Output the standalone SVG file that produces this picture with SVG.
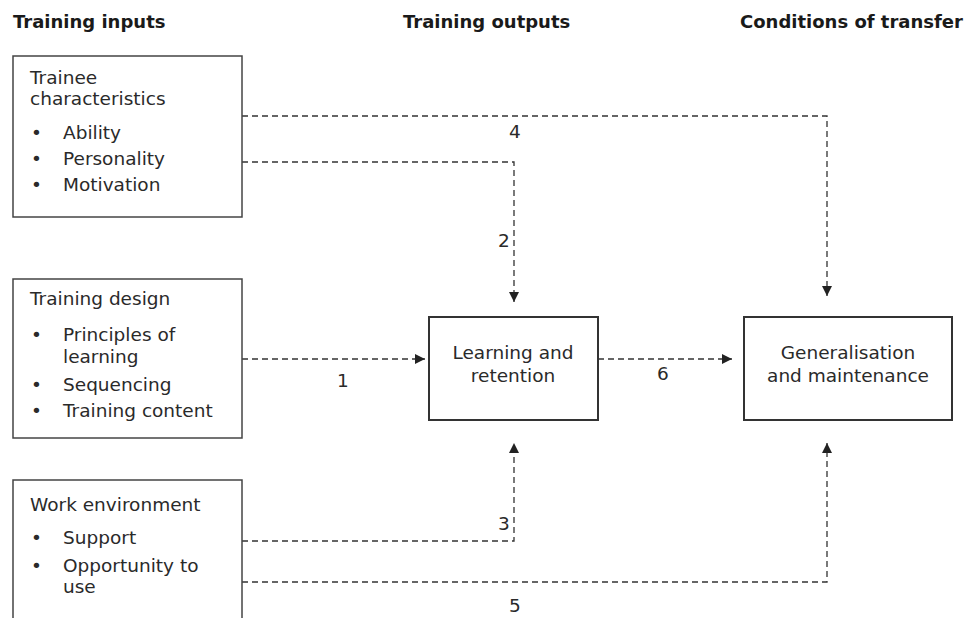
<svg xmlns="http://www.w3.org/2000/svg" width="968" height="618" viewBox="0 0 968 618">
<defs>
<marker id="arr" markerWidth="10" markerHeight="10" refX="10" refY="5" orient="auto" markerUnits="userSpaceOnUse">
<path d="M0,0 L10,5 L0,10 Z" fill="#222"/>
</marker>
<style>
text{font-family:"DejaVu Sans",Verdana,sans-serif;fill:#2a2a2a;font-size:18.5px}
.h{font-weight:bold;font-size:18px;fill:#1a1a1a}
.box{fill:#fff;stroke:#444;stroke-width:1.5}
.box2{fill:#fff;stroke:#333;stroke-width:2}
.c{fill:none;stroke:#333;stroke-width:1.3;stroke-dasharray:6 4}
.m{text-anchor:middle}
</style>
</defs>
<rect width="968" height="618" fill="#fff"/>
<g id="headers">
<text class="h" x="13" y="28">Training inputs</text>
<text class="h" x="403" y="28">Training outputs</text>
<text class="h" x="740" y="28">Conditions of transfer</text>
</g>
<g id="connectors">
<path class="c" d="M242,116 H827 V296" marker-end="url(#arr)"/>
<path class="c" d="M242,162 H514 V302" marker-end="url(#arr)"/>
<path class="c" d="M242,359 H425" marker-end="url(#arr)"/>
<path class="c" d="M598,359 H732" marker-end="url(#arr)"/>
<path class="c" d="M242,541 H514 V443" marker-end="url(#arr)"/>
<path class="c" d="M242,582 H827 V443" marker-end="url(#arr)"/>
<text x="509" y="138">4</text>
<text x="498" y="247">2</text>
<text x="337" y="387">1</text>
<text x="657" y="380">6</text>
<text x="498" y="530">3</text>
<text x="509" y="612">5</text>
</g>
<g id="trainee">
<rect class="box" x="13" y="56" width="229" height="161"/>
<text x="30" y="84">Trainee</text>
<text x="30" y="105">characteristics</text>
<text x="31" y="139">•</text><text x="63" y="139">Ability</text>
<text x="31" y="165">•</text><text x="63" y="165">Personality</text>
<text x="31" y="191">•</text><text x="63" y="191">Motivation</text>
</g>
<g id="design">
<rect class="box" x="13" y="279" width="229" height="159"/>
<text x="30" y="305">Training design</text>
<text x="31" y="341">•</text><text x="63" y="341">Principles of</text>
<text x="63" y="363">learning</text>
<text x="31" y="391">•</text><text x="63" y="391">Sequencing</text>
<text x="31" y="417">•</text><text x="63" y="417">Training content</text>
</g>
<g id="environment">
<rect class="box" x="13" y="480" width="229" height="150"/>
<text x="30" y="511">Work environment</text>
<text x="31" y="544">•</text><text x="63" y="544">Support</text>
<text x="31" y="572">•</text><text x="63" y="572">Opportunity to</text>
<text x="63" y="593">use</text>
</g>
<g id="learning">
<rect class="box2" x="429" y="317" width="169" height="103"/>
<text class="m" x="513" y="359">Learning and</text>
<text class="m" x="513" y="382">retention</text>
</g>
<g id="generalisation">
<rect class="box2" x="744" y="317" width="208" height="103"/>
<text class="m" x="848" y="359">Generalisation</text>
<text class="m" x="848" y="382">and maintenance</text>
</g>
</svg>
